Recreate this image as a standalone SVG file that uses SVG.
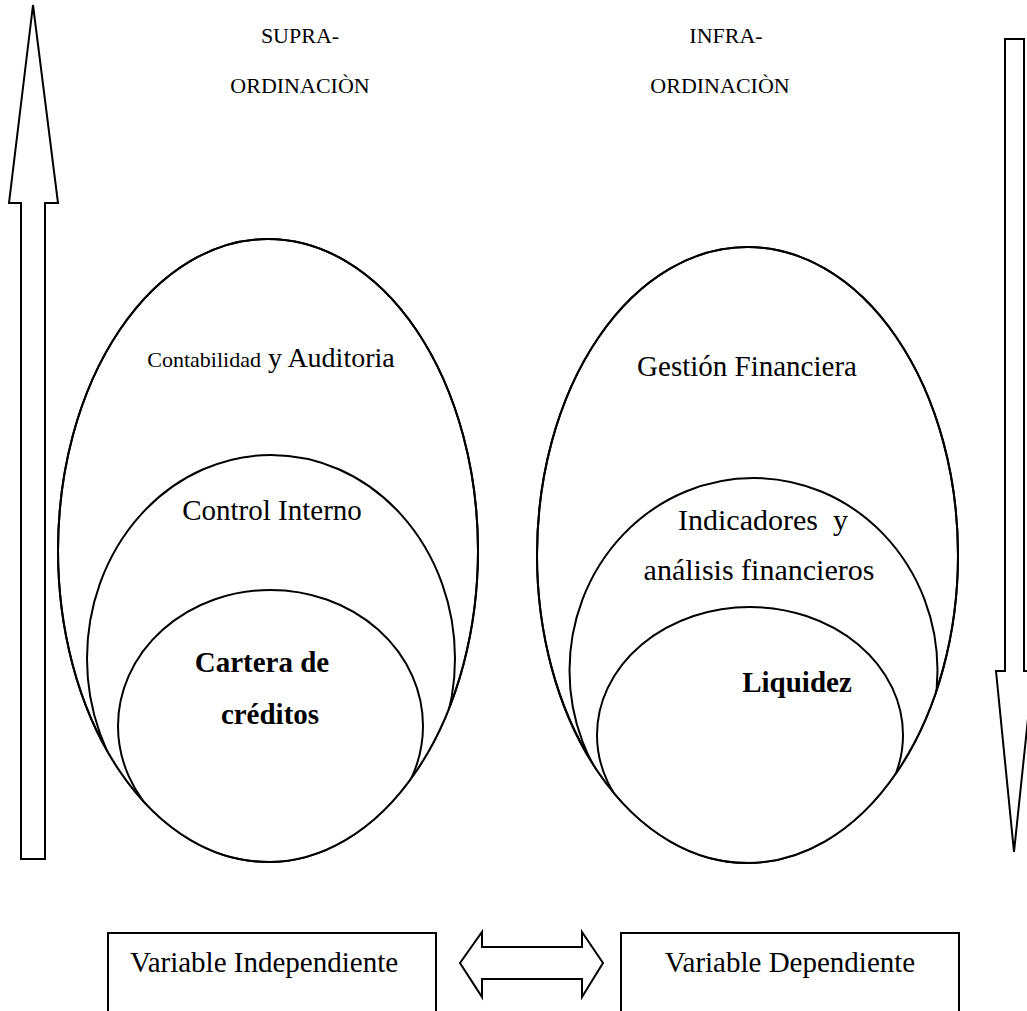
<svg xmlns="http://www.w3.org/2000/svg" width="1027" height="1011" viewBox="0 0 1027 1011">
  <style>
    .shape { fill: #ffffff; stroke: #000000; stroke-width: 2; }
    .ring { fill: none; stroke: #000000; stroke-width: 2; }
    .t { font-family: "Liberation Serif", "Times New Roman", serif; fill: #000000; text-anchor: middle; }
    .body { font-size: 29px; }
    .head { font-size: 22px; }
    .bold { font-size: 29px; font-weight: bold; }
  </style>
  <defs>
    <clipPath id="clipLeft"><ellipse cx="268" cy="550.5" rx="210" ry="311.5"/></clipPath>
    <clipPath id="clipRight"><ellipse cx="747.5" cy="555" rx="210.5" ry="308"/></clipPath>
  </defs>
  <rect width="1027" height="1011" fill="#ffffff"/>

  <!-- vertical hierarchy arrows -->
  <g id="arrow-up">
    <polygon class="shape" points="33,5 58,203 45,203 45,859 21,859 21,203 9,203"/>
  </g>
  <g id="arrow-down">
    <polygon class="shape" points="1005,39 1024,39 1024,671 1033,671 1014,852 996,671 1005,671"/>
  </g>

  <!-- header labels -->
  <g id="label-supra">
    <text class="t head" x="300" y="43">SUPRA-</text>
    <text class="t head" x="300" y="93">ORDINACIÒN</text>
  </g>
  <g id="label-infra">
    <text class="t head" x="726" y="43">INFRA-</text>
    <text class="t head" x="720" y="93">ORDINACIÒN</text>
  </g>

  <!-- independent variable: nested sets -->
  <g id="set-contabilidad">
    <ellipse class="shape" cx="268" cy="550.5" rx="210" ry="311.5"/>
    <text class="t" x="271" y="367"><tspan font-size="22">Contabilidad</tspan><tspan font-size="28"> y Auditoria</tspan></text>
  </g>
  <g id="set-control" clip-path="url(#clipLeft)">
    <ellipse class="shape" cx="271" cy="658.5" rx="184" ry="203.5"/>
    <text class="t body" x="272" y="520">Control Interno</text>
  </g>
  <g id="set-cartera" clip-path="url(#clipLeft)">
    <ellipse class="shape" cx="270.5" cy="726" rx="152.5" ry="136"/>
    <text class="t bold" x="262" y="672">Cartera de</text>
    <text class="t bold" x="270" y="724">créditos</text>
  </g>

  <!-- dependent variable: nested sets -->
  <g id="set-gestion">
    <ellipse class="shape" cx="747.5" cy="555" rx="210.5" ry="308"/>
    <text class="t body" x="747" y="376">Gestión Financiera</text>
  </g>
  <g id="set-indicadores" clip-path="url(#clipRight)">
    <ellipse class="shape" cx="753.5" cy="670.5" rx="184" ry="192.5"/>
    <text class="t" font-size="30" x="763" y="530" xml:space="preserve">Indicadores  y</text>
    <text class="t" font-size="30" x="759" y="580">análisis financieros</text>
  </g>
  <g id="set-liquidez" clip-path="url(#clipRight)">
    <ellipse class="shape" cx="750" cy="735" rx="153" ry="128"/>
    <text class="t bold" font-size="28" x="797" y="692">Liquidez</text>
  </g>
  <!-- outer outlines redrawn over clipped inner shapes -->
  <g id="outer-outlines">
    <ellipse class="ring" cx="268" cy="550.5" rx="210" ry="311.5"/>
    <ellipse class="ring" cx="747.5" cy="555" rx="210.5" ry="308"/>
  </g>

  <!-- variable boxes (open at the lower page edge) -->
  <g id="box-independiente">
    <path class="shape" d="M 108,1013 L 108,933 L 436,933 L 436,1013"/>
    <text class="t body" x="264" y="972">Variable Independiente</text>
  </g>
  <g id="box-dependiente">
    <path class="shape" d="M 621,1013 L 621,933 L 959,933 L 959,1013"/>
    <text class="t body" x="790" y="972">Variable Dependiente</text>
  </g>

  <g id="connectors">
    <polygon class="shape" points="460,963 482,932 482,947 582,947 582,932 603,963 582,997 582,979 482,979 482,997"/>
  </g>
</svg>
